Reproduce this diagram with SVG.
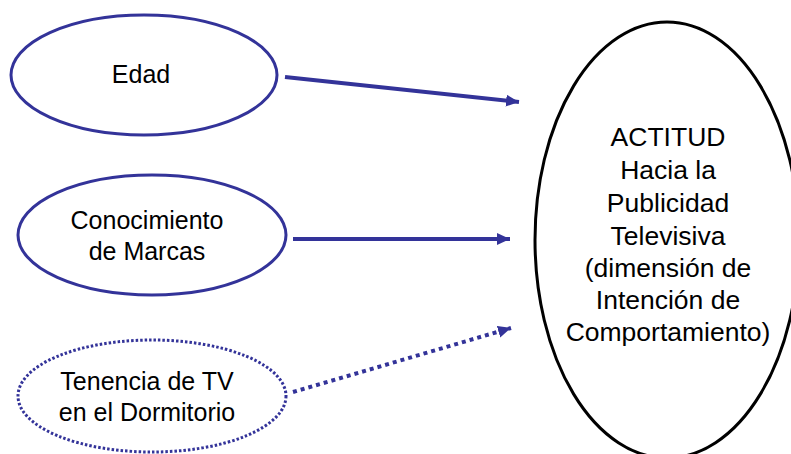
<svg xmlns="http://www.w3.org/2000/svg" width="791" height="454" viewBox="0 0 791 454">
<style>
.n{fill:#fff;stroke:#333399;stroke-width:3}
.d{stroke-dasharray:2.5 2}
.big{fill:#fff;stroke:#000;stroke-width:3}
.t{font-family:"Liberation Sans",Arial,sans-serif;font-size:25px;fill:#000;text-anchor:middle}
.tb{font-size:26.5px}
.c{stroke:#333399;stroke-width:4;fill:none}
</style>
<defs>
<marker id="ah" markerUnits="userSpaceOnUse" markerWidth="14" markerHeight="14" viewBox="0 0 14 14" refX="13" refY="7" orient="auto">
<path d="M0,1 L13,7 L0,13 Z" fill="#333399"/>
</marker>
</defs>
<rect width="791" height="454" fill="#fff"/>
<g id="actitud">
<ellipse class="big" cx="667" cy="240" rx="132" ry="218"/>
<text class="t tb" x="668"><tspan x="668" y="146">ACTITUD</tspan><tspan x="668" y="179">Hacia la</tspan><tspan x="668" y="212">Publicidad</tspan><tspan x="668" y="245">Televisiva</tspan><tspan x="668" y="277">(dimensión de</tspan><tspan x="668" y="309">Intención de</tspan><tspan x="668" y="341">Comportamiento)</tspan></text>
</g>
<g id="edad">
<ellipse class="n" cx="144" cy="75" rx="133" ry="60"/>
<text class="t" x="141" y="83">Edad</text>
</g>
<g id="conocimiento">
<ellipse class="n" cx="152" cy="235" rx="134" ry="60"/>
<text class="t"><tspan x="147" y="229">Conocimiento</tspan><tspan x="147" y="260">de Marcas</tspan></text>
</g>
<g id="tenencia">
<ellipse class="n d" cx="152" cy="396" rx="134" ry="56"/>
<text class="t"><tspan x="147" y="390">Tenencia de TV</tspan><tspan x="147" y="421">en el Dormitorio</tspan></text>
</g>
<g id="connectors">
<line class="c" x1="285" y1="77" x2="519" y2="102" marker-end="url(#ah)"/>
<line class="c" x1="293" y1="239" x2="510" y2="239" marker-end="url(#ah)"/>
<line class="c" x1="293" y1="392" x2="511" y2="328" stroke-dasharray="4 4" marker-end="url(#ah)"/>
</g>
</svg>
